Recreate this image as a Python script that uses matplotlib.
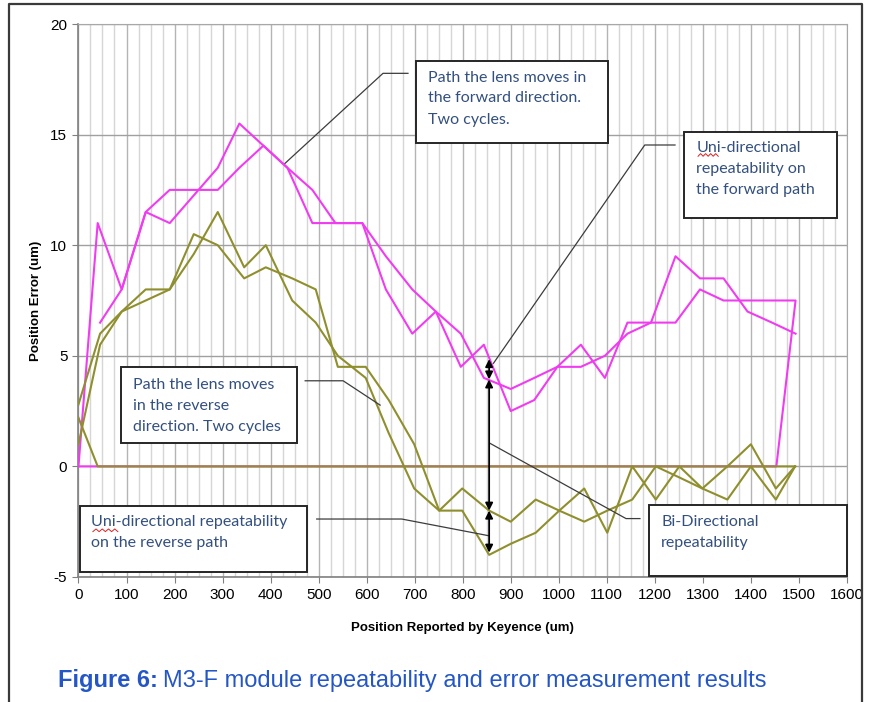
import numpy as np
import matplotlib.pyplot as plt
from matplotlib.patches import Rectangle
from matplotlib.lines import Line2D

plt.rcParams['axes.unicode_minus'] = False

# forward path, two cycles (pink)
fwd1_x = [0, 40, 90, 140, 190, 240, 290, 335, 385, 435, 487, 535, 591, 640, 695, 744,
          796, 844, 900, 949, 997, 1046, 1096, 1143, 1192, 1243, 1294, 1343, 1393, 1444, 1493]
fwd1_y = [0, 11, 8, 11.5, 11, 12.25, 13.5, 15.5, 14.5, 13.5, 11, 11, 11, 8, 6, 7,
          4.5, 5.5, 2.5, 3, 4.5, 4.5, 5, 6, 6.5, 9.5, 8.5, 8.5, 7, 6.5, 6]
fwd2_x = [45, 90, 140, 190, 240, 290, 335, 385, 435, 487, 535, 591, 640, 695, 744, 796,
          844, 900, 949, 997, 1046, 1096, 1143, 1192, 1243, 1294, 1343, 1393, 1444, 1493, 1453, 0]
fwd2_y = [6.5, 8, 11.5, 12.5, 12.5, 12.5, 13.5, 14.5, 13.5, 12.5, 11, 11, 9.5, 8, 7, 6,
          4, 3.5, 4, 4.5, 5.5, 4, 6.5, 6.5, 6.5, 8, 7.5, 7.5, 7.5, 7.5, 0, 0]

# reverse path, two cycles (olive)
rev_x = [0, 45, 90, 140, 190, 240, 290, 345, 390, 445, 494, 540, 598, 646, 699, 751,
         799, 855, 900, 952, 1001, 1053, 1101, 1153, 1202, 1251, 1299, 1351, 1400, 1452, 1492]
rev1_y = [2.8, 6.0, 7, 7.5, 8, 9.6, 11.5, 9.0, 10.0, 7.5, 6.5, 5.0, 4.0, 1.5, -1.0, -2.0,
          -2.0, -4.0, -3.5, -3.0, -2.0, -1.0, -3.0, 0, -1.5, 0, -1.0, 0, 1.0, -1.0, 0]
rev2_y = [1.0, 5.5, 7, 8, 8, 10.5, 10, 8.5, 9, 8.5, 8, 4.5, 4.5, 3.0, 1.0, -2.0,
          -1.0, -2.0, -2.5, -1.5, -2.0, -2.5, -2.0, -1.5, 0, -0.5, -1.0, -1.5, 0, -1.5, 0]
rev0_x = [0, 40, 1492]
rev0_y = [2.2, 0, 0]

pink = '#F03CF0'
olive = '#8F8F2E'
txt_col = '#33507E'

fig = plt.figure(figsize=(8.71, 7.02), dpi=100)
ax = fig.add_axes([0.0901, 0.1781, 0.8823, 0.7877])

ax.plot(fwd1_x, fwd1_y, color=pink, lw=1.5, zorder=3)
ax.plot(fwd2_x, fwd2_y, color=pink, lw=1.5, zorder=3)
ax.plot(rev0_x, rev0_y, color=olive, lw=1.5, zorder=4)
ax.plot(rev_x, rev1_y, color=olive, lw=1.5, zorder=4)
ax.plot(rev_x, rev2_y, color=olive, lw=1.5, zorder=4)

ax.set_xlim(0, 1600)
ax.set_ylim(-5, 20)
ax.set_xticks(np.arange(0, 1601, 100))
ax.set_yticks(np.arange(-5, 21, 5))
ax.set_xticks(np.arange(0, 1601, 25), minor=True)
ax.grid(True, which='major', axis='y', color='#A0A0A0', lw=1.0, zorder=0)
ax.grid(True, which='major', axis='x', color='#B4B4B4', lw=1.0, zorder=0)
ax.grid(True, which='minor', axis='x', color='#D6D6D6', lw=1.0, zorder=0)
ax.tick_params(which='minor', length=0)
ax.tick_params(which='major', length=4, color='#808080', labelsize=11, pad=4)
for lab in ax.get_xticklabels() + ax.get_yticklabels():
    lab.set_fontfamily('Liberation Sans')
for s in ['top', 'right']:
    ax.spines[s].set_color('#A8A8A8')
for s in ['left', 'bottom']:
    ax.spines[s].set_color('#808080')
    ax.spines[s].set_linewidth(1.2)

ax.set_xlabel('Position Reported by Keyence (um)', fontsize=9.5, fontweight='bold',
              family='Liberation Sans', labelpad=14)
ax.set_ylabel('Position Error (um)', fontsize=9.5, fontweight='bold',
              family='Liberation Sans', labelpad=6)

# repeatability arrows at x = 855
arr = dict(arrowstyle='<|-|>', color='black', lw=1.3, mutation_scale=11,
           shrinkA=0, shrinkB=0)
ax.annotate('', xy=(855, 4.85), xytext=(855, 3.93), arrowprops=arr, zorder=6)
ax.annotate('', xy=(855, 3.93), xytext=(855, -2.0), arrowprops=arr, zorder=6)
ax.annotate('', xy=(855, -2.0), xytext=(855, -3.9), arrowprops=arr, zorder=6)

# callouts: box, leader, text lines
callouts = [
    ((702, 14.61, 400, 3.73), [(430, 13.7), (634, 17.77), (686, 17.77)],
     727, [17.56, 16.65, 15.66],
     ['Path the lens moves in', 'the forward direction.', 'Two cycles.']),
    ((1261, 11.22, 318, 3.91), [(864, 4.66), (1179, 14.53), (1242, 14.53)],
     1286, [14.39, 13.44, 12.50],
     ['Uni-directional', 'repeatability on', 'the forward path']),
    ((88, 1.07, 366, 3.41), [(628, 2.77), (551, 3.87), (472, 3.87)],
     113, [3.68, 2.74, 1.79],
     ['Path the lens moves', 'in the reverse', 'direction. Two cycles']),
    ((3, -4.79, 472, 3.01), [(853, -3.13), (673, -2.38), (496, -2.38)],
     27, [-2.53, -3.48],
     ['Uni-directional repeatability', 'on the reverse path']),
    ((1188, -4.96, 412, 3.2), [(857, 1.04), (1140, -2.36), (1169, -2.36)],
     1213, [-2.53, -3.48],
     ['Bi-Directional', 'repeatability']),
]
for box, lead, tx, tys, lines in callouts:
    ax.add_patch(Rectangle((box[0], box[1]), box[2], box[3], facecolor='white',
                           edgecolor='#262626', lw=1.4, zorder=7, clip_on=False))
    lx, ly = zip(*lead)
    ax.plot(lx, ly, color='#3C3C3C', lw=0.9, zorder=5)
    for ty, s in zip(tys, lines):
        ax.text(tx, ty, s, fontsize=11.5, family='Lato', color=txt_col,
                va='center', ha='left', zorder=8)

# spell-check squiggles under "Uni"
for x0, x1, yy in [(1290, 1332, 14.02), (30, 82, -2.95)]:
    sx = np.linspace(x0, x1, 9)
    sy = yy + np.array([0, 0.12] * 5)[:9]
    ax.plot(sx, sy, color='#E02020', lw=0.7, zorder=9, clip_on=False)

# caption
r = fig.canvas.get_renderer()
t1 = fig.text(58 / 871, 1 - 681 / 702, 'Figure 6:', fontsize=17, fontweight='bold',
              family='Liberation Sans', color='#2457C5', va='center', ha='left')
bb = t1.get_window_extent(renderer=r)
fig.text(bb.x1 / 871 + 0.006, 1 - 681 / 702, 'M3-F module repeatability and error measurement results',
         fontsize=17, family='Liberation Sans', color='#2457C5', va='center', ha='left')

# outer frame
fig.add_artist(Line2D([9 / 871, 9 / 871, 862 / 871, 862 / 871],
                      [0, 1 - 4 / 702, 1 - 4 / 702, 0], color='#3A3A3A', lw=1.6))

fig.savefig('out.png', dpi=100)
